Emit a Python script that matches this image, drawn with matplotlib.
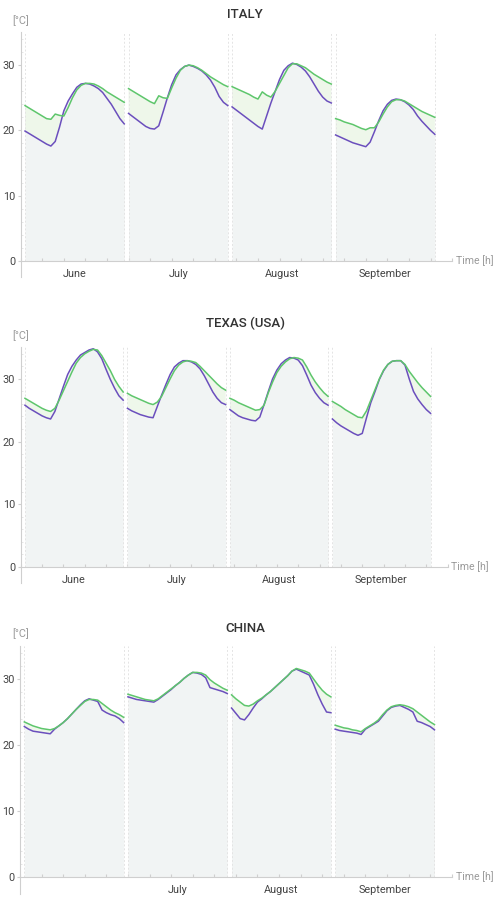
import numpy as np
import matplotlib.pyplot as plt

plt.rcParams['font.family'] = ['Roboto', 'DejaVu Sans']

# four representative days, 24 hourly values each
months = ['June', 'July', 'August', 'September']
hours = np.arange(1, 25)

italy_purple = [19.9, 19.5, 19.1, 18.7, 18.3, 17.9, 17.6, 18.3, 20.5, 23.0, 24.5, 25.6, 26.6, 27.1, 27.2, 27.1, 26.8, 26.4, 25.8, 24.9, 24.0, 22.9, 21.8, 21.0,
                22.6, 22.1, 21.6, 21.1, 20.6, 20.3, 20.2, 20.7, 22.8, 25.0, 27.0, 28.5, 29.3, 29.8, 30.0, 29.8, 29.5, 29.1, 28.5, 27.7, 26.6, 25.2, 24.3, 23.8,
                23.6, 23.1, 22.6, 22.1, 21.6, 21.1, 20.6, 20.2, 22.2, 24.2, 26.0, 27.8, 29.2, 29.9, 30.3, 30.1, 29.7, 29.1, 28.2, 27.1, 26.0, 25.1, 24.5, 24.2,
                19.3, 19.0, 18.7, 18.4, 18.1, 17.9, 17.7, 17.5, 18.2, 19.8, 21.5, 23.0, 24.0, 24.6, 24.8, 24.7, 24.4, 23.9, 23.2, 22.2, 21.4, 20.7, 20.0, 19.4]
italy_green = [23.8, 23.4, 23.0, 22.6, 22.2, 21.8, 21.7, 22.5, 22.3, 22.2, 23.5, 25.0, 26.2, 26.9, 27.2, 27.2, 27.1, 26.8, 26.4, 25.9, 25.5, 25.1, 24.7, 24.3,
               26.4, 26.0, 25.6, 25.2, 24.8, 24.4, 24.1, 25.3, 25.0, 24.9, 26.5, 28.0, 29.2, 29.8, 30.0, 29.9, 29.6, 29.2, 28.7, 28.2, 27.8, 27.4, 27.0, 26.7,
               26.7, 26.4, 26.1, 25.8, 25.5, 25.1, 24.8, 25.9, 25.4, 25.1, 26.0, 27.2, 28.4, 29.6, 30.2, 30.2, 29.9, 29.6, 29.1, 28.6, 28.2, 27.8, 27.4, 27.1,
               21.8, 21.6, 21.3, 21.1, 20.9, 20.6, 20.3, 20.1, 20.4, 20.4, 21.3, 22.5, 23.6, 24.4, 24.7, 24.7, 24.5, 24.1, 23.7, 23.3, 22.9, 22.6, 22.3, 22.0]

texas_purple = [25.8, 25.3, 24.9, 24.5, 24.1, 23.8, 23.6, 24.8, 26.8, 28.8, 30.7, 32.0, 33.0, 33.8, 34.2, 34.6, 34.8, 34.3, 33.2, 31.5, 29.9, 28.5, 27.3, 26.6,
                25.3, 24.9, 24.6, 24.3, 24.1, 23.9, 23.8, 25.6, 27.4, 29.1, 30.7, 31.9, 32.5, 32.9, 32.9, 32.7, 32.3, 31.6, 30.5, 29.2, 27.9, 26.9, 26.2, 25.9,
                25.1, 24.6, 24.1, 23.8, 23.6, 23.4, 23.3, 23.9, 25.9, 28.0, 30.0, 31.4, 32.4, 33.0, 33.4, 33.3, 33.0, 32.1, 30.6, 29.0, 27.8, 26.9, 26.2, 25.8,
                23.6, 23.0, 22.5, 22.1, 21.7, 21.3, 21.0, 21.3, 23.8, 26.2, 28.0, 29.9, 31.3, 32.3, 32.8, 32.9, 32.9, 32.2, 30.0, 28.0, 26.8, 25.9, 25.1, 24.5]
texas_green = [26.9, 26.5, 26.1, 25.7, 25.3, 25.0, 24.8, 25.3, 26.6, 28.1, 29.6, 31.1, 32.5, 33.4, 34.0, 34.4, 34.7, 34.6, 33.7, 32.5, 31.3, 29.9, 28.8, 27.9,
               27.7, 27.3, 27.0, 26.7, 26.4, 26.1, 25.9, 26.3, 27.2, 28.6, 30.0, 31.3, 32.2, 32.7, 32.9, 32.8, 32.6, 32.0, 31.3, 30.6, 29.9, 29.2, 28.6, 28.2,
               26.9, 26.6, 26.2, 25.9, 25.6, 25.3, 25.0, 25.1, 25.8, 27.8, 29.5, 31.0, 32.0, 32.7, 33.2, 33.4, 33.3, 33.0, 31.9, 30.6, 29.5, 28.6, 27.8, 27.2,
               26.4, 26.0, 25.6, 25.1, 24.7, 24.3, 23.9, 23.8, 24.9, 26.6, 28.3, 30.0, 31.4, 32.3, 32.8, 32.9, 32.9, 32.3, 31.2, 30.3, 29.4, 28.6, 27.9, 27.2]

china_purple = [22.8, 22.4, 22.1, 22.0, 21.9, 21.8, 21.7, 22.4, 22.9, 23.4, 24.0, 24.7, 25.4, 26.1, 26.7, 27.0, 26.8, 26.6, 25.3, 24.9, 24.6, 24.4, 24.0, 23.4,
                27.3, 27.1, 26.9, 26.8, 26.7, 26.6, 26.5, 26.9, 27.4, 27.9, 28.4, 29.0, 29.5, 30.1, 30.6, 31.0, 30.9, 30.7, 30.2, 28.7, 28.5, 28.3, 28.1, 27.8,
                25.6, 24.8, 24.0, 23.8, 24.6, 25.6, 26.5, 27.0, 27.6, 28.1, 28.7, 29.3, 29.9, 30.5, 31.2, 31.5, 31.2, 30.9, 30.6, 29.2, 27.6, 26.2, 25.0, 24.9,
                22.4, 22.2, 22.1, 22.0, 21.9, 21.8, 21.6, 22.4, 22.8, 23.2, 23.6, 24.4, 25.2, 25.7, 25.9, 26.0, 25.7, 25.4, 25.0, 23.6, 23.4, 23.1, 22.8, 22.3]
china_green = [23.5, 23.2, 22.9, 22.7, 22.5, 22.4, 22.3, 22.5, 22.9, 23.4, 24.0, 24.7, 25.4, 26.0, 26.6, 26.9, 26.9, 26.8, 26.3, 25.8, 25.3, 24.9, 24.6, 24.2,
               27.7, 27.5, 27.3, 27.1, 26.9, 26.8, 26.7, 27.0, 27.5, 28.0, 28.5, 29.0, 29.5, 30.1, 30.6, 31.0, 31.0, 30.9, 30.6, 29.9, 29.4, 29.0, 28.6, 28.3,
               27.6, 27.0, 26.5, 26.0, 25.9, 26.2, 26.7, 27.1, 27.6, 28.1, 28.7, 29.3, 29.9, 30.5, 31.2, 31.6, 31.4, 31.2, 30.9, 30.0, 29.1, 28.3, 27.7, 27.3,
               23.0, 22.8, 22.6, 22.5, 22.3, 22.2, 22.0, 22.5, 22.9, 23.3, 23.8, 24.6, 25.3, 25.8, 26.0, 26.1, 26.0, 25.8, 25.5, 25.0, 24.5, 24.0, 23.5, 23.1]

purple = '#6b4fbd'
green = '#5ec66c'
fill_grey = '#f1f4f4'
fill_green = '#eef7ea'
axis_grey = '#cfcfcf'

fig = plt.figure(figsize=(4.93, 8.97), dpi=100)

# title, purple series, green series, axes rect, month labels shown, title y (px from top)
panels = [
    ('ITALY', italy_purple, italy_green, [0.042, 0.6909, 0.875, 0.2729], months, 15),
    ('TEXAS (USA)', texas_purple, texas_green, [0.042, 0.3504, 0.866, 0.2622], months, 323),
    ('CHINA', china_purple, china_green, [0.0406, 0.0039, 0.8757, 0.2759], ['', 'July', 'August', 'September'], 628),
]

for title, p_vals, g_vals, rect, labels, title_y in panels:
    ax = fig.add_axes(rect)
    p_vals = np.array(p_vals)
    g_vals = np.array(g_vals)
    for d in range(4):
        x = hours + 24 * d
        p = p_vals[24 * d:24 * d + 24]
        g = g_vals[24 * d:24 * d + 24]
        ax.fill_between(x, 0, p, color=fill_grey, lw=0)
        ax.fill_between(x, p, g, where=g > p, interpolate=True, color=fill_green, lw=0)
        ax.vlines([x[0], x[-1]], 0, 35, colors='#e4e4e4', linestyles=(0, (2, 2)), lw=0.7)
        ax.plot(x, p, color=purple, lw=1.1)
        ax.plot(x, g, color=green, lw=1.1)
        if labels[d]:
            ax.text(x[0] + 11.5, -2.0, labels[d], ha='center', va='center',
                    fontsize=7.8, color='#444444')

    ax.set_xlim(0, 100)
    ax.set_ylim(-2.5, 35)
    for s in ['top', 'right']:
        ax.spines[s].set_visible(False)
    ax.spines['bottom'].set_position(('data', 0))
    ax.spines['bottom'].set_color(axis_grey)
    ax.spines['left'].set_color(axis_grey)
    ax.spines['bottom'].set_linewidth(0.8)
    ax.spines['left'].set_linewidth(0.8)

    ax.set_xticks(np.arange(0, 101, 5))
    ax.set_xticklabels([])
    ax.tick_params(axis='x', direction='in', length=2, color=axis_grey)
    ax.set_yticks([0, 10, 20, 30])
    ax.set_yticks(np.arange(0, 35, 2), minor=True)
    ax.tick_params(axis='y', length=2, color=axis_grey, labelsize=7.8,
                   labelcolor='#444444', pad=2)
    ax.tick_params(axis='y', which='minor', direction='in', length=1.5, color='#e2e2e2')

    ax.text(100.9, 0, 'Time [h]', ha='left', va='center', fontsize=7.6,
            color='#9a9a9a', clip_on=False)
    top_px = (1 - rect[1] - rect[3]) * 897
    fig.text(12 / 493, 1 - (top_px - 12) / 897, '[°C]', ha='left', va='center',
             fontsize=7.8, color='#9a9a9a')
    fig.text(245 / 493, 1 - title_y / 897, title, ha='center', va='center',
             fontsize=9.5, color='#333333', fontweight='medium')

fig.savefig('out.png', dpi=100)
